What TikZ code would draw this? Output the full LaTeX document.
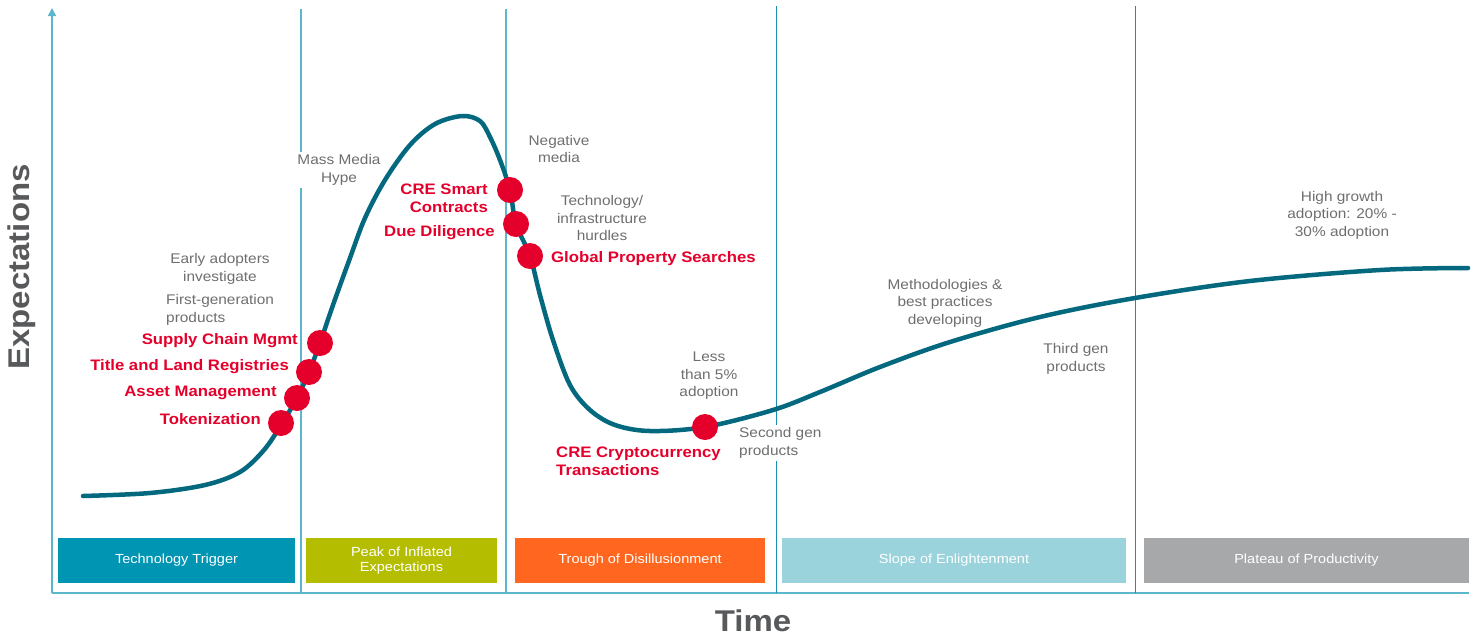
\documentclass[tikz,border=0pt]{standalone}
\usepackage{fontspec}
\setmainfont[FakeStretch=1.1]{Liberation Sans}
\usetikzlibrary{arrows.meta}
\definecolor{divlight}{HTML}{5BB8CC}
\definecolor{divdark}{HTML}{1A8CB5}
\definecolor{curvecol}{HTML}{04687E}
\definecolor{dotred}{HTML}{E4002B}
\definecolor{txtgray}{HTML}{6D6E70}
\definecolor{axgray}{HTML}{58595B}
\definecolor{phA}{HTML}{0095B3}
\definecolor{phB}{HTML}{B5BD00}
\definecolor{phC}{HTML}{FF6720}
\definecolor{phD}{HTML}{9AD3DC}
\definecolor{phE}{HTML}{A7A8AA}
\tikzset{
  note/.style={text=txtgray, font=\fontsize{14}{17.5}\selectfont, align=center, inner sep=0pt},
  notebg/.style={note, fill=white, inner sep=3pt},
  redlab/.style={text=dotred, font=\fontsize{15.2}{18}\selectfont\bfseries, inner sep=0pt},
  dot/.style={circle, fill=dotred, minimum size=26pt, inner sep=0pt},
  phase/.style={minimum height=45pt, inner sep=0pt, text=white, align=center, font=\fontsize{13.2}{16}\selectfont},
  axislab/.style={text=axgray, font=\fontsize{30}{32}\selectfont\bfseries, inner sep=0pt},
  curve/.style={draw=curvecol, line width=4.5pt, line cap=round, line join=round},
}
\begin{document}
\begin{tikzpicture}[x=1pt, y=-1pt]
\useasboundingbox (0,0) rectangle (1478,638);
% axes
\coordinate (origin) at (52,593);
\coordinate (ytop) at (52,8);
\coordinate (xend) at (1469,593);
\draw[divlight, line width=1.6pt] (origin) -- (xend);
\draw[divlight, line width=1.6pt, -{Triangle[width=8pt,length=8pt]}] (origin) -- (ytop);
% dividers
\coordinate (v1t) at (301,9); \coordinate (v1b) at (301,593);
\coordinate (v2t) at (506,9); \coordinate (v2b) at (506,593);
\coordinate (v3t) at (776,6); \coordinate (v3b) at (776,593);
\coordinate (v4t) at (1135,6); \coordinate (v4b) at (1135,593);
\draw[divlight, line width=1.4pt] (v1t) -- (v1b);
\draw[divlight, line width=1.4pt] (v2t) -- (v2b);
\draw[divdark, line width=1pt] (v3t) -- (v3b);
\draw[divdark, line width=1pt] (v4t) -- (v4b);
% phase boxes
\node[phase, fill=phA, minimum width=237pt] (p1) at (176.5,560.5) {Technology Trigger};
\node[phase, fill=phB, minimum width=191pt] (p2) at (401.5,560.5) {Peak of Inflated\\[-1pt]Expectations};
\node[phase, fill=phC, minimum width=250pt] (p3) at (640,560.5) {Trough of Disillusionment};
\node[phase, fill=phD, minimum width=344pt] (p4) at (954,560.5) {Slope of Enlightenment};
\node[phase, fill=phE, minimum width=325pt] (p5) at (1306.5,560.5) {Plateau of Productivity};
% axis labels
\node[axislab, rotate=90] (ylab) at (22,267) {Expectations};
\node[axislab] (xlab) at (753,621) {Time};
% gray notes
\node[note] (n1) at (220,269) {Early adopters\\investigate};
\node[note, align=left, anchor=west] (n2) at (166,310) {First-generation\\products};
\node[notebg] (n3) at (339,170) {Mass Media\\Hype};
\node[note] (n4) at (559,149) {Negative\\media};
\node[note] (n5) at (602,218) {Technology/\\infrastructure\\hurdles};
\node[note] (n6) at (709,376) {Less\\than 5\%\\adoption};
\node[notebg, align=left, anchor=west] (n7) at (736,443) {Second gen\\products};
\node[note] (n8) at (945,303) {Methodologies \&\\best practices\\developing};
\node[note] (n9) at (1076,359) {Third gen\\products};
\node[note] (n10) at (1342,215) {High growth\\adoption: 20\% -\\30\% adoption};
% hype curve
\draw[curve] plot[smooth, tension=0.55] coordinates {
 (83,496) (150,493) (205,485) (240,472) (264,450) (281,425) (297,398) (309,372) (320,343)
 (333,305) (350,258) (365,218) (385,180) (410,145) (435,124) (462,116) (480,121) (490,137)
 (500,160) (510,190) (516,224) (530,256) (540,295) (553,340) (570,385) (590,410) (615,425)
 (650,431) (705,427) (773,410) (820,392) (880,367) (950,342) (1040,317) (1135,298)
 (1250,281) (1380,270) (1468,268)};
% dots
\node[dot] (d1) at (320,343) {};
\node[dot] (d2) at (309,372) {};
\node[dot] (d3) at (297,398) {};
\node[dot] (d4) at (281,423) {};
\node[dot] (d5) at (510,190) {};
\node[dot] (d6) at (516,224) {};
\node[dot] (d7) at (530,256) {};
\node[dot] (d8) at (705,427) {};
% red labels
\node[redlab, anchor=east] (r1) at (298,341) {Supply Chain Mgmt};
\node[redlab, anchor=east] (r2) at (289,367) {Title and Land Registries};
\node[redlab, anchor=east] (r3) at (277,393) {Asset Management};
\node[redlab, anchor=east] (r4) at (261,419) {Tokenization};
\node[redlab, anchor=east, align=right] (r5) at (488,198) {CRE Smart\\Contracts};
\node[redlab, anchor=east] (r6) at (495,233) {Due Diligence};
\node[redlab, anchor=west] (r7) at (551,259) {Global Property Searches};
\node[redlab, anchor=west, align=left] (r8) at (556,461) {CRE Cryptocurrency\\Transactions};
\end{tikzpicture}
\end{document}
